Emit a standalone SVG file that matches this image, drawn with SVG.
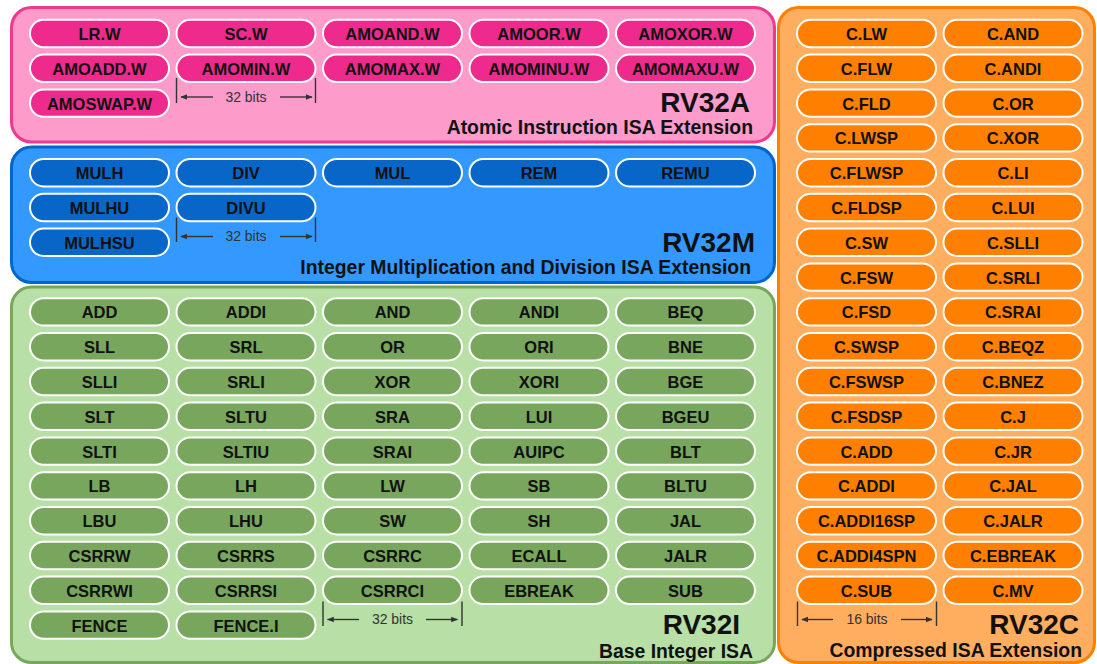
<svg xmlns="http://www.w3.org/2000/svg" width="1097" height="664" viewBox="0 0 1097 664">
<style>
.box{stroke-width:3}
.pill{stroke:#ffffff;stroke-width:2}
.pa{fill:#ee2a8c}
.pm{fill:#0866c8}
.pi{fill:#79a65d}
.pc{fill:#ff8000}
.pt{font-family:"Liberation Sans",Arial,sans-serif;font-weight:bold;font-size:16.5px;fill:#111;text-anchor:middle}
.big{font-family:"Liberation Sans",Arial,sans-serif;font-weight:bold;font-size:28px;fill:#111;text-anchor:end}
.sub{font-family:"Liberation Sans",Arial,sans-serif;font-weight:bold;font-size:19.4px;fill:#111;text-anchor:end}
.dim{stroke:#333;stroke-width:1.4;fill:none}
.dt{font-family:"Liberation Sans",Arial,sans-serif;font-size:14px;fill:#333;text-anchor:middle}
</style>
<defs>
<marker id="ah" viewBox="0 0 10 10" refX="9" refY="5" markerWidth="7" markerHeight="7" orient="auto-start-reverse" markerUnits="userSpaceOnUse">
<path d="M0,1 L10,5 L0,9 z" fill="#333"/>
</marker>
</defs>

<g id="box-rv32a">
<rect class="box" x="11.5" y="7.5" width="763" height="134.5" rx="20" fill="#fd9bcb" stroke="#f0388f"/>
<text class="big" x="750" y="112">RV32A</text>
<text class="sub" x="753" y="134">Atomic Instruction ISA Extension</text>
</g>
<g id="box-rv32m">
<rect class="box" x="11.5" y="147" width="763" height="135.5" rx="20" fill="#3399ff" stroke="#0066cc"/>
<text class="big" x="755" y="251.5">RV32M</text>
<text class="sub" x="751" y="274">Integer Multiplication and Division ISA Extension</text>
</g>
<g id="box-rv32i">
<rect class="box" x="11.5" y="287" width="763" height="375.5" rx="20" fill="#b8e0a6" stroke="#79a65d"/>
<text class="big" x="740" y="634">RV32I</text>
<text class="sub" x="753" y="658">Base Integer ISA</text>
</g>
<g id="box-rv32c">
<rect class="box" x="778.5" y="7.5" width="316" height="655" rx="20" fill="#ffad5e" stroke="#ff8000"/>
<text class="big" x="1079" y="634">RV32C</text>
<text class="sub" x="1082" y="657">Compressed ISA Extension</text>
</g>

<!-- RV32A -->
<g id="n-lr-w" transform="translate(30,19.8)"><rect class="pill pa" width="139" height="27.4" rx="13.7"/><text class="pt" x="69.5" y="20.3">LR.W</text></g>
<g id="n-sc-w" transform="translate(176.5,19.8)"><rect class="pill pa" width="139" height="27.4" rx="13.7"/><text class="pt" x="69.5" y="20.3">SC.W</text></g>
<g id="n-amoand-w" transform="translate(323,19.8)"><rect class="pill pa" width="139" height="27.4" rx="13.7"/><text class="pt" x="69.5" y="20.3">AMOAND.W</text></g>
<g id="n-amoor-w" transform="translate(469.5,19.8)"><rect class="pill pa" width="139" height="27.4" rx="13.7"/><text class="pt" x="69.5" y="20.3">AMOOR.W</text></g>
<g id="n-amoxor-w" transform="translate(616,19.8)"><rect class="pill pa" width="139" height="27.4" rx="13.7"/><text class="pt" x="69.5" y="20.3">AMOXOR.W</text></g>
<g id="n-amoadd-w" transform="translate(30,54.6)"><rect class="pill pa" width="139" height="27.4" rx="13.7"/><text class="pt" x="69.5" y="20.3">AMOADD.W</text></g>
<g id="n-amomin-w" transform="translate(176.5,54.6)"><rect class="pill pa" width="139" height="27.4" rx="13.7"/><text class="pt" x="69.5" y="20.3">AMOMIN.W</text></g>
<g id="n-amomax-w" transform="translate(323,54.6)"><rect class="pill pa" width="139" height="27.4" rx="13.7"/><text class="pt" x="69.5" y="20.3">AMOMAX.W</text></g>
<g id="n-amominu-w" transform="translate(469.5,54.6)"><rect class="pill pa" width="139" height="27.4" rx="13.7"/><text class="pt" x="69.5" y="20.3">AMOMINU.W</text></g>
<g id="n-amomaxu-w" transform="translate(616,54.6)"><rect class="pill pa" width="139" height="27.4" rx="13.7"/><text class="pt" x="69.5" y="20.3">AMOMAXU.W</text></g>
<g id="n-amoswap-w" transform="translate(30,89.4)"><rect class="pill pa" width="139" height="27.4" rx="13.7"/><text class="pt" x="69.5" y="20.3">AMOSWAP.W</text></g>

<!-- RV32M -->
<g id="n-mulh" transform="translate(30,159)"><rect class="pill pm" width="139" height="27.4" rx="13.7"/><text class="pt" x="69.5" y="20.3">MULH</text></g>
<g id="n-div" transform="translate(176.5,159)"><rect class="pill pm" width="139" height="27.4" rx="13.7"/><text class="pt" x="69.5" y="20.3">DIV</text></g>
<g id="n-mul" transform="translate(323,159)"><rect class="pill pm" width="139" height="27.4" rx="13.7"/><text class="pt" x="69.5" y="20.3">MUL</text></g>
<g id="n-rem" transform="translate(469.5,159)"><rect class="pill pm" width="139" height="27.4" rx="13.7"/><text class="pt" x="69.5" y="20.3">REM</text></g>
<g id="n-remu" transform="translate(616,159)"><rect class="pill pm" width="139" height="27.4" rx="13.7"/><text class="pt" x="69.5" y="20.3">REMU</text></g>
<g id="n-mulhu" transform="translate(30,193.8)"><rect class="pill pm" width="139" height="27.4" rx="13.7"/><text class="pt" x="69.5" y="20.3">MULHU</text></g>
<g id="n-divu" transform="translate(176.5,193.8)"><rect class="pill pm" width="139" height="27.4" rx="13.7"/><text class="pt" x="69.5" y="20.3">DIVU</text></g>
<g id="n-mulhsu" transform="translate(30,228.6)"><rect class="pill pm" width="139" height="27.4" rx="13.7"/><text class="pt" x="69.5" y="20.3">MULHSU</text></g>

<!-- RV32I -->
<g id="n-add" transform="translate(30,298.2)"><rect class="pill pi" width="139" height="27.4" rx="13.7"/><text class="pt" x="69.5" y="20.3">ADD</text></g>
<g id="n-addi" transform="translate(176.5,298.2)"><rect class="pill pi" width="139" height="27.4" rx="13.7"/><text class="pt" x="69.5" y="20.3">ADDI</text></g>
<g id="n-and" transform="translate(323,298.2)"><rect class="pill pi" width="139" height="27.4" rx="13.7"/><text class="pt" x="69.5" y="20.3">AND</text></g>
<g id="n-andi" transform="translate(469.5,298.2)"><rect class="pill pi" width="139" height="27.4" rx="13.7"/><text class="pt" x="69.5" y="20.3">ANDI</text></g>
<g id="n-beq" transform="translate(616,298.2)"><rect class="pill pi" width="139" height="27.4" rx="13.7"/><text class="pt" x="69.5" y="20.3">BEQ</text></g>

<g id="n-sll" transform="translate(30,333)"><rect class="pill pi" width="139" height="27.4" rx="13.7"/><text class="pt" x="69.5" y="20.3">SLL</text></g>
<g id="n-srl" transform="translate(176.5,333)"><rect class="pill pi" width="139" height="27.4" rx="13.7"/><text class="pt" x="69.5" y="20.3">SRL</text></g>
<g id="n-or" transform="translate(323,333)"><rect class="pill pi" width="139" height="27.4" rx="13.7"/><text class="pt" x="69.5" y="20.3">OR</text></g>
<g id="n-ori" transform="translate(469.5,333)"><rect class="pill pi" width="139" height="27.4" rx="13.7"/><text class="pt" x="69.5" y="20.3">ORI</text></g>
<g id="n-bne" transform="translate(616,333)"><rect class="pill pi" width="139" height="27.4" rx="13.7"/><text class="pt" x="69.5" y="20.3">BNE</text></g>

<g id="n-slli" transform="translate(30,367.8)"><rect class="pill pi" width="139" height="27.4" rx="13.7"/><text class="pt" x="69.5" y="20.3">SLLI</text></g>
<g id="n-srli" transform="translate(176.5,367.8)"><rect class="pill pi" width="139" height="27.4" rx="13.7"/><text class="pt" x="69.5" y="20.3">SRLI</text></g>
<g id="n-xor" transform="translate(323,367.8)"><rect class="pill pi" width="139" height="27.4" rx="13.7"/><text class="pt" x="69.5" y="20.3">XOR</text></g>
<g id="n-xori" transform="translate(469.5,367.8)"><rect class="pill pi" width="139" height="27.4" rx="13.7"/><text class="pt" x="69.5" y="20.3">XORI</text></g>
<g id="n-bge" transform="translate(616,367.8)"><rect class="pill pi" width="139" height="27.4" rx="13.7"/><text class="pt" x="69.5" y="20.3">BGE</text></g>

<g id="n-slt" transform="translate(30,402.6)"><rect class="pill pi" width="139" height="27.4" rx="13.7"/><text class="pt" x="69.5" y="20.3">SLT</text></g>
<g id="n-sltu" transform="translate(176.5,402.6)"><rect class="pill pi" width="139" height="27.4" rx="13.7"/><text class="pt" x="69.5" y="20.3">SLTU</text></g>
<g id="n-sra" transform="translate(323,402.6)"><rect class="pill pi" width="139" height="27.4" rx="13.7"/><text class="pt" x="69.5" y="20.3">SRA</text></g>
<g id="n-lui" transform="translate(469.5,402.6)"><rect class="pill pi" width="139" height="27.4" rx="13.7"/><text class="pt" x="69.5" y="20.3">LUI</text></g>
<g id="n-bgeu" transform="translate(616,402.6)"><rect class="pill pi" width="139" height="27.4" rx="13.7"/><text class="pt" x="69.5" y="20.3">BGEU</text></g>

<g id="n-slti" transform="translate(30,437.4)"><rect class="pill pi" width="139" height="27.4" rx="13.7"/><text class="pt" x="69.5" y="20.3">SLTI</text></g>
<g id="n-sltiu" transform="translate(176.5,437.4)"><rect class="pill pi" width="139" height="27.4" rx="13.7"/><text class="pt" x="69.5" y="20.3">SLTIU</text></g>
<g id="n-srai" transform="translate(323,437.4)"><rect class="pill pi" width="139" height="27.4" rx="13.7"/><text class="pt" x="69.5" y="20.3">SRAI</text></g>
<g id="n-auipc" transform="translate(469.5,437.4)"><rect class="pill pi" width="139" height="27.4" rx="13.7"/><text class="pt" x="69.5" y="20.3">AUIPC</text></g>
<g id="n-blt" transform="translate(616,437.4)"><rect class="pill pi" width="139" height="27.4" rx="13.7"/><text class="pt" x="69.5" y="20.3">BLT</text></g>

<g id="n-lb" transform="translate(30,472.2)"><rect class="pill pi" width="139" height="27.4" rx="13.7"/><text class="pt" x="69.5" y="20.3">LB</text></g>
<g id="n-lh" transform="translate(176.5,472.2)"><rect class="pill pi" width="139" height="27.4" rx="13.7"/><text class="pt" x="69.5" y="20.3">LH</text></g>
<g id="n-lw" transform="translate(323,472.2)"><rect class="pill pi" width="139" height="27.4" rx="13.7"/><text class="pt" x="69.5" y="20.3">LW</text></g>
<g id="n-sb" transform="translate(469.5,472.2)"><rect class="pill pi" width="139" height="27.4" rx="13.7"/><text class="pt" x="69.5" y="20.3">SB</text></g>
<g id="n-bltu" transform="translate(616,472.2)"><rect class="pill pi" width="139" height="27.4" rx="13.7"/><text class="pt" x="69.5" y="20.3">BLTU</text></g>

<g id="n-lbu" transform="translate(30,507)"><rect class="pill pi" width="139" height="27.4" rx="13.7"/><text class="pt" x="69.5" y="20.3">LBU</text></g>
<g id="n-lhu" transform="translate(176.5,507)"><rect class="pill pi" width="139" height="27.4" rx="13.7"/><text class="pt" x="69.5" y="20.3">LHU</text></g>
<g id="n-sw" transform="translate(323,507)"><rect class="pill pi" width="139" height="27.4" rx="13.7"/><text class="pt" x="69.5" y="20.3">SW</text></g>
<g id="n-sh" transform="translate(469.5,507)"><rect class="pill pi" width="139" height="27.4" rx="13.7"/><text class="pt" x="69.5" y="20.3">SH</text></g>
<g id="n-jal" transform="translate(616,507)"><rect class="pill pi" width="139" height="27.4" rx="13.7"/><text class="pt" x="69.5" y="20.3">JAL</text></g>

<g id="n-csrrw" transform="translate(30,541.8)"><rect class="pill pi" width="139" height="27.4" rx="13.7"/><text class="pt" x="69.5" y="20.3">CSRRW</text></g>
<g id="n-csrrs" transform="translate(176.5,541.8)"><rect class="pill pi" width="139" height="27.4" rx="13.7"/><text class="pt" x="69.5" y="20.3">CSRRS</text></g>
<g id="n-csrrc" transform="translate(323,541.8)"><rect class="pill pi" width="139" height="27.4" rx="13.7"/><text class="pt" x="69.5" y="20.3">CSRRC</text></g>
<g id="n-ecall" transform="translate(469.5,541.8)"><rect class="pill pi" width="139" height="27.4" rx="13.7"/><text class="pt" x="69.5" y="20.3">ECALL</text></g>
<g id="n-jalr" transform="translate(616,541.8)"><rect class="pill pi" width="139" height="27.4" rx="13.7"/><text class="pt" x="69.5" y="20.3">JALR</text></g>

<g id="n-csrrwi" transform="translate(30,576.6)"><rect class="pill pi" width="139" height="27.4" rx="13.7"/><text class="pt" x="69.5" y="20.3">CSRRWI</text></g>
<g id="n-csrrsi" transform="translate(176.5,576.6)"><rect class="pill pi" width="139" height="27.4" rx="13.7"/><text class="pt" x="69.5" y="20.3">CSRRSI</text></g>
<g id="n-csrrci" transform="translate(323,576.6)"><rect class="pill pi" width="139" height="27.4" rx="13.7"/><text class="pt" x="69.5" y="20.3">CSRRCI</text></g>
<g id="n-ebreak" transform="translate(469.5,576.6)"><rect class="pill pi" width="139" height="27.4" rx="13.7"/><text class="pt" x="69.5" y="20.3">EBREAK</text></g>
<g id="n-sub" transform="translate(616,576.6)"><rect class="pill pi" width="139" height="27.4" rx="13.7"/><text class="pt" x="69.5" y="20.3">SUB</text></g>

<g id="n-fence" transform="translate(30,611.4)"><rect class="pill pi" width="139" height="27.4" rx="13.7"/><text class="pt" x="69.5" y="20.3">FENCE</text></g>
<g id="n-fence-i" transform="translate(176.5,611.4)"><rect class="pill pi" width="139" height="27.4" rx="13.7"/><text class="pt" x="69.5" y="20.3">FENCE.I</text></g>

<!-- RV32C -->
<g id="n-c-lw" transform="translate(797,19.8)"><rect class="pill pc" width="139" height="27.4" rx="13.7"/><text class="pt" x="69.5" y="20.3">C.LW</text></g>
<g id="n-c-and" transform="translate(943.5,19.8)"><rect class="pill pc" width="139" height="27.4" rx="13.7"/><text class="pt" x="69.5" y="20.3">C.AND</text></g>
<g id="n-c-flw" transform="translate(797,54.6)"><rect class="pill pc" width="139" height="27.4" rx="13.7"/><text class="pt" x="69.5" y="20.3">C.FLW</text></g>
<g id="n-c-andi" transform="translate(943.5,54.6)"><rect class="pill pc" width="139" height="27.4" rx="13.7"/><text class="pt" x="69.5" y="20.3">C.ANDI</text></g>
<g id="n-c-fld" transform="translate(797,89.4)"><rect class="pill pc" width="139" height="27.4" rx="13.7"/><text class="pt" x="69.5" y="20.3">C.FLD</text></g>
<g id="n-c-or" transform="translate(943.5,89.4)"><rect class="pill pc" width="139" height="27.4" rx="13.7"/><text class="pt" x="69.5" y="20.3">C.OR</text></g>
<g id="n-c-lwsp" transform="translate(797,124.2)"><rect class="pill pc" width="139" height="27.4" rx="13.7"/><text class="pt" x="69.5" y="20.3">C.LWSP</text></g>
<g id="n-c-xor" transform="translate(943.5,124.2)"><rect class="pill pc" width="139" height="27.4" rx="13.7"/><text class="pt" x="69.5" y="20.3">C.XOR</text></g>
<g id="n-c-flwsp" transform="translate(797,159)"><rect class="pill pc" width="139" height="27.4" rx="13.7"/><text class="pt" x="69.5" y="20.3">C.FLWSP</text></g>
<g id="n-c-li" transform="translate(943.5,159)"><rect class="pill pc" width="139" height="27.4" rx="13.7"/><text class="pt" x="69.5" y="20.3">C.LI</text></g>
<g id="n-c-fldsp" transform="translate(797,193.8)"><rect class="pill pc" width="139" height="27.4" rx="13.7"/><text class="pt" x="69.5" y="20.3">C.FLDSP</text></g>
<g id="n-c-lui" transform="translate(943.5,193.8)"><rect class="pill pc" width="139" height="27.4" rx="13.7"/><text class="pt" x="69.5" y="20.3">C.LUI</text></g>
<g id="n-c-sw" transform="translate(797,228.6)"><rect class="pill pc" width="139" height="27.4" rx="13.7"/><text class="pt" x="69.5" y="20.3">C.SW</text></g>
<g id="n-c-slli" transform="translate(943.5,228.6)"><rect class="pill pc" width="139" height="27.4" rx="13.7"/><text class="pt" x="69.5" y="20.3">C.SLLI</text></g>
<g id="n-c-fsw" transform="translate(797,263.4)"><rect class="pill pc" width="139" height="27.4" rx="13.7"/><text class="pt" x="69.5" y="20.3">C.FSW</text></g>
<g id="n-c-srli" transform="translate(943.5,263.4)"><rect class="pill pc" width="139" height="27.4" rx="13.7"/><text class="pt" x="69.5" y="20.3">C.SRLI</text></g>
<g id="n-c-fsd" transform="translate(797,298.2)"><rect class="pill pc" width="139" height="27.4" rx="13.7"/><text class="pt" x="69.5" y="20.3">C.FSD</text></g>
<g id="n-c-srai" transform="translate(943.5,298.2)"><rect class="pill pc" width="139" height="27.4" rx="13.7"/><text class="pt" x="69.5" y="20.3">C.SRAI</text></g>
<g id="n-c-swsp" transform="translate(797,333)"><rect class="pill pc" width="139" height="27.4" rx="13.7"/><text class="pt" x="69.5" y="20.3">C.SWSP</text></g>
<g id="n-c-beqz" transform="translate(943.5,333)"><rect class="pill pc" width="139" height="27.4" rx="13.7"/><text class="pt" x="69.5" y="20.3">C.BEQZ</text></g>
<g id="n-c-fswsp" transform="translate(797,367.8)"><rect class="pill pc" width="139" height="27.4" rx="13.7"/><text class="pt" x="69.5" y="20.3">C.FSWSP</text></g>
<g id="n-c-bnez" transform="translate(943.5,367.8)"><rect class="pill pc" width="139" height="27.4" rx="13.7"/><text class="pt" x="69.5" y="20.3">C.BNEZ</text></g>
<g id="n-c-fsdsp" transform="translate(797,402.6)"><rect class="pill pc" width="139" height="27.4" rx="13.7"/><text class="pt" x="69.5" y="20.3">C.FSDSP</text></g>
<g id="n-c-j" transform="translate(943.5,402.6)"><rect class="pill pc" width="139" height="27.4" rx="13.7"/><text class="pt" x="69.5" y="20.3">C.J</text></g>
<g id="n-c-add" transform="translate(797,437.4)"><rect class="pill pc" width="139" height="27.4" rx="13.7"/><text class="pt" x="69.5" y="20.3">C.ADD</text></g>
<g id="n-c-jr" transform="translate(943.5,437.4)"><rect class="pill pc" width="139" height="27.4" rx="13.7"/><text class="pt" x="69.5" y="20.3">C.JR</text></g>
<g id="n-c-addi" transform="translate(797,472.2)"><rect class="pill pc" width="139" height="27.4" rx="13.7"/><text class="pt" x="69.5" y="20.3">C.ADDI</text></g>
<g id="n-c-jal" transform="translate(943.5,472.2)"><rect class="pill pc" width="139" height="27.4" rx="13.7"/><text class="pt" x="69.5" y="20.3">C.JAL</text></g>
<g id="n-c-addi16sp" transform="translate(797,507)"><rect class="pill pc" width="139" height="27.4" rx="13.7"/><text class="pt" x="69.5" y="20.3">C.ADDI16SP</text></g>
<g id="n-c-jalr" transform="translate(943.5,507)"><rect class="pill pc" width="139" height="27.4" rx="13.7"/><text class="pt" x="69.5" y="20.3">C.JALR</text></g>
<g id="n-c-addi4spn" transform="translate(797,541.8)"><rect class="pill pc" width="139" height="27.4" rx="13.7"/><text class="pt" x="69.5" y="20.3">C.ADDI4SPN</text></g>
<g id="n-c-ebreak" transform="translate(943.5,541.8)"><rect class="pill pc" width="139" height="27.4" rx="13.7"/><text class="pt" x="69.5" y="20.3">C.EBREAK</text></g>
<g id="n-c-sub" transform="translate(797,576.6)"><rect class="pill pc" width="139" height="27.4" rx="13.7"/><text class="pt" x="69.5" y="20.3">C.SUB</text></g>
<g id="n-c-mv" transform="translate(943.5,576.6)"><rect class="pill pc" width="139" height="27.4" rx="13.7"/><text class="pt" x="69.5" y="20.3">C.MV</text></g>

<g id="connectors">
<g id="dim-a">
<path class="dim" d="M176.5,78 V103 M315.5,78 V103"/>
<line class="dim" x1="213" y1="97" x2="181" y2="97" marker-end="url(#ah)"/>
<line class="dim" x1="280" y1="97" x2="312" y2="97" marker-end="url(#ah)"/>
<text class="dt" x="246" y="101.5">32 bits</text>
</g>
<g id="dim-m">
<path class="dim" d="M176.5,217.5 V242 M315.5,217.5 V242"/>
<line class="dim" x1="213" y1="236.5" x2="181" y2="236.5" marker-end="url(#ah)"/>
<line class="dim" x1="280" y1="236.5" x2="312" y2="236.5" marker-end="url(#ah)"/>
<text class="dt" x="246" y="241">32 bits</text>
</g>
<g id="dim-i">
<path class="dim" d="M323,601.5 V626 M462,601.5 V626"/>
<line class="dim" x1="359" y1="619.5" x2="327.5" y2="619.5" marker-end="url(#ah)"/>
<line class="dim" x1="426" y1="619.5" x2="457.5" y2="619.5" marker-end="url(#ah)"/>
<text class="dt" x="392.5" y="624">32 bits</text>
</g>
<g id="dim-c">
<path class="dim" d="M797.5,601.5 V626 M936.5,601.5 V626"/>
<line class="dim" x1="833" y1="619.5" x2="802" y2="619.5" marker-end="url(#ah)"/>
<line class="dim" x1="901" y1="619.5" x2="932" y2="619.5" marker-end="url(#ah)"/>
<text class="dt" x="867" y="624">16 bits</text>
</g>
</g>
</svg>
